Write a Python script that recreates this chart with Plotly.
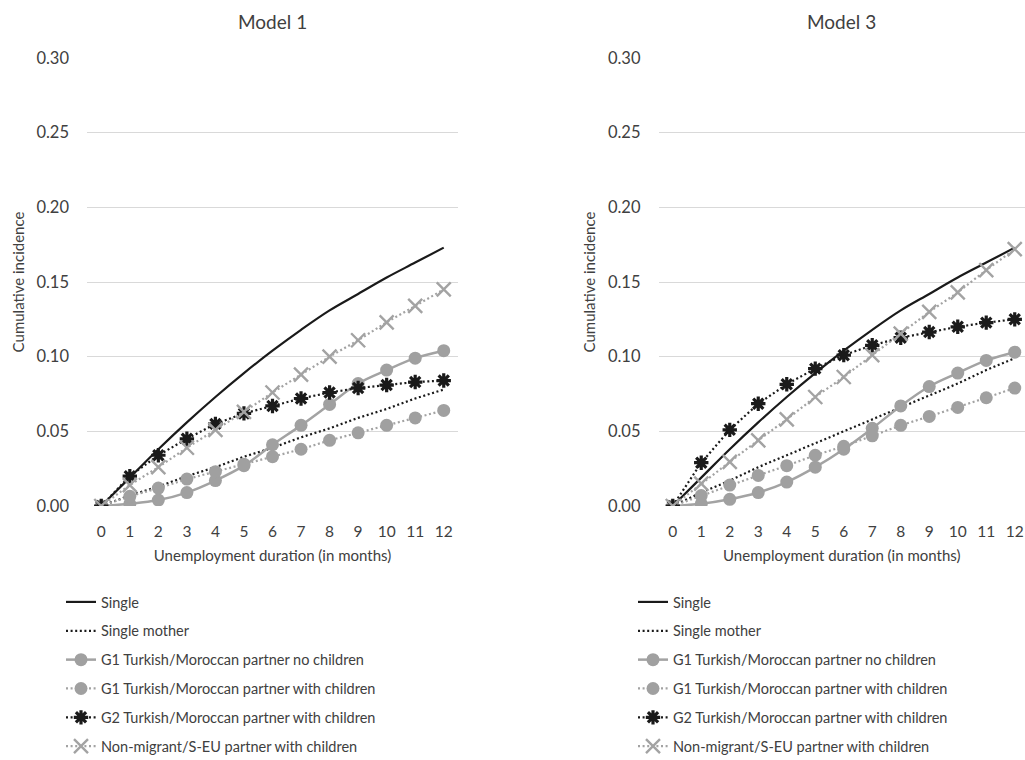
import plotly.graph_objects as go

months = list(range(13))
tick_labels = [str(m) for m in months]
y_ticks = [0.00, 0.05, 0.10, 0.15, 0.20, 0.25, 0.30]
y_tick_labels = ["0.00", "0.05", "0.10", "0.15", "0.20", "0.25", "0.30"]

series_names = [
    "Single",
    "Single mother",
    "G1 Turkish/Moroccan partner no children",
    "G1 Turkish/Moroccan partner with children",
    "G2 Turkish/Moroccan partner with children",
    "Non-migrant/S-EU partner with children",
]

# Model 1
m1_single = [0, 0.019, 0.038, 0.056, 0.073, 0.089, 0.104, 0.118, 0.131, 0.142, 0.153, 0.163, 0.173]
m1_single_mother = [0, 0.007, 0.013, 0.020, 0.026, 0.033, 0.039, 0.046, 0.052, 0.059, 0.065, 0.072, 0.078]
m1_g1_nochild = [0, 0.0015, 0.004, 0.009, 0.017, 0.027, 0.041, 0.054, 0.068, 0.082, 0.091, 0.099, 0.104]
m1_g1_child = [0, 0.0065, 0.012, 0.018, 0.023, 0.028, 0.033, 0.038, 0.044, 0.049, 0.054, 0.059, 0.064]
m1_g2_child = [0, 0.020, 0.034, 0.045, 0.055, 0.062, 0.067, 0.072, 0.076, 0.079, 0.081, 0.083, 0.084]
m1_nonmig = [0, 0.014, 0.026, 0.039, 0.051, 0.063, 0.076, 0.088, 0.100, 0.111, 0.123, 0.134, 0.145]

# Model 3
m3_single = [0, 0.019, 0.038, 0.056, 0.073, 0.089, 0.104, 0.118, 0.131, 0.142, 0.153, 0.163, 0.173]
m3_single_mother = [0, 0.009, 0.017, 0.026, 0.034, 0.042, 0.050, 0.058, 0.066, 0.074, 0.082, 0.091, 0.099]
m3_g1_nochild = [0, 0.0015, 0.0045, 0.009, 0.016, 0.026, 0.038, 0.052, 0.067, 0.080, 0.089, 0.0975, 0.103]
m3_g1_child = [0, 0.007, 0.014, 0.0205, 0.027, 0.034, 0.040, 0.047, 0.054, 0.060, 0.066, 0.0725, 0.079]
m3_g2_child = [0, 0.029, 0.051, 0.0685, 0.0815, 0.092, 0.101, 0.1076, 0.1127, 0.1165, 0.120, 0.1228, 0.125]
m3_nonmig = [0, 0.015, 0.0295, 0.044, 0.058, 0.073, 0.0864, 0.101, 0.1154, 0.130, 0.143, 0.158, 0.172]

model_titles = ["Model 1", "Model 3"]
x_title = "Unemployment duration (in months)"
y_title = "Cumulative incidence"

BLACK = "#1a1a1a"
GRAY = "#a3a3a3"
TEXT = "#404040"
FONT = "Lato"

styles = [
    dict(mode="lines", line=dict(color=BLACK, width=2.2, shape="spline"), marker=None),
    dict(mode="lines", line=dict(color=BLACK, width=2.2, dash="2px,2.6px"), marker=None),
    dict(mode="lines+markers", line=dict(color=GRAY, width=2.5, shape="spline"),
         marker=dict(symbol="circle", size=13, color="#a0a0a0")),
    dict(mode="lines+markers", line=dict(color=GRAY, width=2.2, dash="2px,2.6px"),
         marker=dict(symbol="circle", size=13, color="#a0a0a0")),
    dict(mode="lines+markers", line=dict(color=BLACK, width=2.2, dash="2px,2.6px"),
         marker=dict(symbol="asterisk-open", size=12, line=dict(color=BLACK, width=3.2))),
    dict(mode="lines+markers", line=dict(color=GRAY, width=2.2, dash="2px,2.6px"),
         marker=dict(symbol="x-thin-open", size=14, line=dict(color="#a6a6a6", width=2.4))),
]

fig = go.Figure()
models = [
    [m1_single, m1_single_mother, m1_g1_nochild, m1_g1_child, m1_g2_child, m1_nonmig],
    [m3_single, m3_single_mother, m3_g1_nochild, m3_g1_child, m3_g2_child, m3_nonmig],
]
for mi, data in enumerate(models):
    xa = "x" if mi == 0 else "x2"
    ya = "y" if mi == 0 else "y2"
    lg = "legend" if mi == 0 else "legend2"
    for si, vals in enumerate(data):
        st = styles[si]
        kw = dict(x=months, y=vals, name=series_names[si], mode=st["mode"], line=st["line"],
                  xaxis=xa, yaxis=ya, legend=lg, legendgroup=f"{mi}-{si}", showlegend=True,
                  hoverinfo="skip")
        if st["marker"] is not None:
            kw["marker"] = st["marker"]
        fig.add_trace(go.Scatter(**kw))

W, H = 1025, 760
def px_x(p):
    return p / W
def px_y(p):
    return 1 - p / H

y_dom = [px_y(506), px_y(58)]
common_x = dict(tickmode="array", tickvals=months, ticktext=tick_labels, showgrid=False,
                zeroline=False, showline=False, ticks="", ticklabelstandoff=14,
                tickfont=dict(size=15.5, color=TEXT), automargin=False,
                title=dict(text=x_title, font=dict(size=15, color=TEXT), standoff=11))
common_y = dict(range=[0, 0.30], tickmode="array", tickvals=y_ticks, ticktext=y_tick_labels,
                showgrid=True, gridcolor="#d9d9d9", gridwidth=1, zeroline=False, showline=False,
                ticks="", ticklabelstandoff=17, tickfont=dict(size=16.5, color=TEXT),
                automargin=False,
                title=dict(text=y_title, font=dict(size=15, color=TEXT), standoff=8))

fig.update_layout(
    width=W, height=H,
    margin=dict(l=0, r=0, t=0, b=0, autoexpand=False),
    paper_bgcolor="white", plot_bgcolor="white",
    font=dict(family=FONT, size=14, color=TEXT),
    xaxis=dict(domain=[px_x(87), px_x(458)], range=[-0.5, 12.5], anchor="y", **common_x),
    yaxis=dict(domain=y_dom, anchor="x", **common_y),
    xaxis2=dict(domain=[px_x(658.5), 1.0], range=[-0.5, 12.36], anchor="y2", **common_x),
    yaxis2=dict(domain=y_dom, anchor="x2", **common_y),
    legend=dict(x=px_x(61), y=px_y(586), xanchor="left", yanchor="top",
                traceorder="grouped", tracegroupgap=7, font=dict(size=14.5, color=TEXT),
                bgcolor="rgba(0,0,0,0)"),
    legend2=dict(x=px_x(633), y=px_y(586), xanchor="left", yanchor="top",
                 traceorder="grouped", tracegroupgap=7, font=dict(size=14.5, color=TEXT),
                 bgcolor="rgba(0,0,0,0)"),
    annotations=[
        dict(text=model_titles[0], x=0.5, xref="x domain", y=px_y(22), yref="paper",
             showarrow=False, font=dict(size=19, color=TEXT), xanchor="center", yanchor="middle"),
        dict(text=model_titles[1], x=0.5, xref="x2 domain", y=px_y(22), yref="paper",
             showarrow=False, font=dict(size=19, color=TEXT), xanchor="center", yanchor="middle"),
    ],
)

fig.write_html(
    "out.html",
    config={"displayModeBar": False},
    post_script="document.body.style.margin='0';document.body.style.overflow='hidden';",
)
